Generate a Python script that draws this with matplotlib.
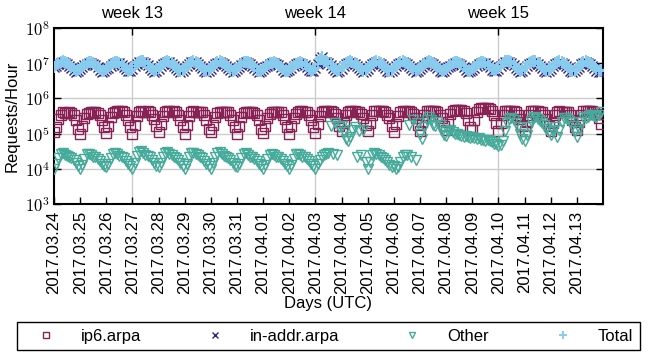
#!/usr/bin/env python3
# -*- coding: utf-8 -*-
"""
Requests/hour per reverse zone, 2-hourly samples, 2017-03-24 .. 2017-04-13.
Writes out.png (652x356).
"""
import numpy as np
import pandas as pd
import matplotlib
matplotlib.use("Agg")
import matplotlib.pyplot as plt
import matplotlib.dates as mdates
from matplotlib.ticker import FixedLocator, NullLocator

START = "2017-03-24"
END = "2017-04-14"
STEP = "2h"          # samples at 00,02,...,22 UTC

# requests/hour in thousands, one row per day (12 samples)
IP6_K = [
    [110, 150, 260, 350, 400, 390, 380, 400, 380, 330, 240, 140],   # 03.24
    [100, 160, 270, 360, 390, 400, 410, 400, 380, 340, 250, 150],
    [105, 170, 290, 380, 420, 440, 450, 430, 400, 350, 250, 150],
    [100, 180, 310, 400, 430, 420, 410, 430, 410, 350, 260, 160],   # 03.27
    [110, 190, 320, 410, 440, 430, 420, 440, 410, 340, 250, 150],
    [100, 180, 310, 400, 430, 420, 410, 420, 400, 330, 240, 140],
    [110, 175, 300, 390, 420, 410, 400, 420, 400, 340, 250, 150],
    [100, 170, 290, 380, 410, 420, 410, 410, 390, 330, 240, 140],   # 03.31
    [105, 160, 270, 360, 400, 420, 420, 410, 400, 350, 260, 150],
    [100, 165, 280, 370, 410, 430, 430, 420, 400, 340, 250, 150],
    [105, 190, 320, 410, 440, 430, 420, 440, 420, 360, 270, 170],   # 04.03
    [120, 200, 330, 420, 440, 430, 430, 420, 410, 360, 280, 180],
    [120, 200, 340, 430, 450, 440, 430, 430, 410, 350, 270, 170],
    [115, 190, 320, 410, 440, 430, 420, 440, 420, 360, 280, 180],
    [120, 210, 340, 430, 450, 440, 430, 440, 410, 350, 270, 170],   # 04.07
    [130, 220, 360, 450, 480, 470, 470, 460, 440, 380, 240, 150],
    [130, 240, 400, 500, 530, 540, 530, 520, 500, 440, 330, 200],
    [120, 200, 340, 430, 450, 440, 430, 430, 410, 350, 260, 160],   # 04.10
    [120, 210, 340, 430, 440, 430, 430, 420, 410, 350, 260, 160],
    [120, 200, 330, 420, 440, 420, 410, 410, 400, 340, 250, 150],
    [125, 210, 340, 430, 450, 440, 430, 440, 420, 370, 280, 190],   # 04.13
]

INADDR_K = [
    [7600, 8600, 9600, 10500, 10900, 10500, 9700, 8600, 7400, 6400, 5700, 6100],   # 03.24
    [6900, 7800, 8800, 9800, 10300, 10300, 9800, 8800, 7600, 6500, 5800, 6000],
    [6700, 7500, 8500, 9500, 10200, 10400, 10000, 9100, 7900, 6700, 5900, 6100],
    [7000, 8300, 9600, 10700, 11200, 10900, 10000, 8800, 7500, 6400, 5800, 6200],  # 03.27
    [7100, 8300, 9500, 10500, 11000, 10600, 9800, 8600, 7300, 6300, 5700, 6100],
    [7000, 8300, 9500, 10600, 11000, 10600, 9700, 8500, 7300, 6200, 5600, 6100],
    [7000, 8200, 9400, 10500, 10900, 10500, 9700, 8600, 7400, 6300, 5700, 6100],
    [7000, 8100, 9200, 10200, 10600, 10200, 9500, 8400, 7300, 6300, 5600, 6000],   # 03.31
    [6700, 7600, 8600, 9600, 10100, 10100, 9700, 8800, 7600, 6500, 5800, 6000],
    [6500, 7300, 8300, 9300, 10000, 10100, 9800, 8900, 7800, 6600, 5900, 6200],
    [7200, 9500, 13000, 15000, 11200, 10800, 9900, 8700, 7400, 6300, 5700, 6100],  # 04.03
    [7100, 8300, 9500, 10500, 10900, 10500, 9700, 8600, 7300, 6300, 5700, 6100],
    [7000, 8200, 9400, 10400, 10800, 10400, 9600, 8500, 7300, 6200, 5600, 6000],
    [7000, 8200, 9400, 10400, 10900, 10500, 9700, 8600, 7400, 6300, 5700, 6100],
    [7000, 8100, 9200, 10200, 10600, 10200, 9500, 8400, 7200, 6200, 5600, 6000],   # 04.07
    [6700, 7600, 8600, 9700, 10200, 10200, 9800, 8800, 7600, 6500, 5800, 6000],
    [6600, 7400, 8400, 9500, 10100, 10200, 9900, 9000, 7800, 6600, 5900, 6200],
    [7100, 8400, 9600, 10700, 11100, 10700, 9900, 8700, 7400, 6300, 5700, 6100],  # 04.10
    [7000, 8300, 9500, 10500, 11000, 10600, 9800, 8600, 7300, 6200, 5600, 6000],
    [7000, 8200, 9400, 10400, 10800, 10400, 9600, 8500, 7200, 6100, 5500, 5900],
    [6900, 8100, 9300, 10300, 10700, 10300, 9500, 8400, 7200, 6100, 5500, 5800],   # 04.13
]

OTHER_K = [
    [10, 14, 20, 27, 28, 25, 23, 22, 20, 18, 15, 12],            # 03.24
    [10, 13, 19, 26, 27, 25, 22, 21, 19, 17, 14, 12],
    [11, 14, 20, 27, 28, 26, 23, 22, 20, 17, 14, 12],
    [10, 15, 23, 30, 32, 28, 25, 23, 21, 18, 15, 12],            # 03.27
    [11, 15, 22, 29, 30, 27, 24, 22, 20, 18, 15, 12],
    [10, 14, 21, 28, 29, 27, 24, 22, 20, 17, 14, 12],
    [10, 15, 22, 29, 30, 26, 23, 22, 20, 18, 15, 12],
    [11, 14, 20, 27, 28, 25, 22, 21, 19, 17, 14, 12],            # 03.31
    [10, 13, 19, 25, 27, 25, 22, 21, 19, 17, 14, 12],
    [10, 13, 19, 26, 27, 25, 22, 21, 19, 17, 14, 12],
    [10, 14, 18, 22, 25, 27, 28, 170, 26, 200, 24, 150],         # 04.03
    [160, 110, 70, 60, 80, 130, 150, 22, 120, 25, 130, 16],
    [10, 16, 24, 28, 27, 25, 22, 20, 18, 16, 13, 11],
    [12, 10, 11, 16, 22, 24, 25, 180, 22, 250, 18, 200],
    [100, 70, 150, 250, 300, 240, 180, 160, 220, 180, 120, 90],  # 04.07
    [85, 120, 130, 115, 100, 95, 90, 85, 80, 85, 80, 75],
    [78, 74, 70, 75, 68, 64, 62, 64, 60, 56, 52, 50],
    [45, 48, 60, 120, 200, 260, 280, 250, 200, 150, 100, 70],    # 04.10
    [60, 90, 150, 230, 280, 300, 260, 230, 200, 180, 140, 110],
    [90, 120, 150, 80, 130, 220, 280, 270, 240, 210, 170, 120],
    [80, 140, 220, 290, 270, 300, 330, 350, 320, 290, 330, 400], # 04.13
]

LABELS = ["ip6.arpa", "in-addr.arpa", "Other", "Total"]
COLORS = ["#882255", "#332288", "#44AA99", "#88CCEE"]
MARKERS = ["s", "x", "v", "+"]
SIZES = [6.5, 6.5, 7, 8]
EDGE_W = [1.0, 1.0, 1.0, 1.4]


def main():
    plt.rcParams["font.family"] = ["Liberation Sans", "DejaVu Sans"]
    plt.rcParams["mathtext.fontset"] = "cm"
    plt.rcParams["font.size"] = 12

    ip6 = np.array(IP6_K, float).ravel() * 1e3
    inaddr = np.array(INADDR_K, float).ravel() * 1e3
    other = np.array(OTHER_K, float).ravel() * 1e3
    total = ip6 + inaddr + other
    t = pd.date_range(START, periods=ip6.size, freq=STEP)

    fig = plt.figure(figsize=(6.52, 3.56), dpi=100)
    ax = fig.add_axes([0.0828, 0.427, 0.842, 0.494])

    series = [ip6, inaddr, other, total]
    for y, lab, c, m, s, w in zip(series, LABELS, COLORS, MARKERS, SIZES, EDGE_W):
        ax.plot(t, y, ls="none", marker=m, mfc="none", mec=c, ms=s, mew=w,
                label=lab, zorder=3)

    ax.set_yscale("log")
    ax.set_ylim(1e3, 1e8)
    decades = [3, 4, 5, 6, 7, 8]
    ax.yaxis.set_major_locator(FixedLocator([10.0 ** n for n in decades]))
    ax.yaxis.set_minor_locator(NullLocator())
    ax.set_yticklabels([f"$10^{{{n}}}$" for n in decades], fontsize=12)
    ax.grid(axis="y", color="#cccccc", lw=1.0, zorder=0)

    days = pd.date_range(START, "2017-04-13", freq="D")
    ax.set_xlim(mdates.date2num(pd.Timestamp(START)), mdates.date2num(pd.Timestamp(END)))
    ax.xaxis.set_major_locator(FixedLocator(mdates.date2num(days)))
    ax.set_xticklabels([d.strftime("%Y.%m.%d") for d in days], rotation=90, fontsize=12)

    # week boundaries (ISO weeks start on Monday)
    weeks = pd.date_range("2017-03-27", "2017-04-10", freq="7D")
    for w in weeks:
        ax.axvline(mdates.date2num(w), color="#cccccc", lw=1.0, zorder=0)

    ax.tick_params(axis="x", direction="in", length=5, width=1, pad=5)
    ax.tick_params(axis="y", direction="in", length=5, width=1, pad=3,
                   left=True, right=True)
    for sp in ax.spines.values():
        sp.set_linewidth(1.5)

    top = ax.twiny()
    top.set_xlim(ax.get_xlim())
    top.xaxis.set_major_locator(FixedLocator(mdates.date2num(weeks)))
    top.set_xticklabels([f"week {w.isocalendar()[1]}" for w in weeks], fontsize=12)
    top.tick_params(axis="x", direction="in", length=5, width=1, pad=5)
    for sp in top.spines.values():
        sp.set_visible(False)

    ax.set_ylabel("Requests/Hour", fontsize=12, labelpad=4)
    ax.set_xlabel("Days (UTC)", fontsize=12, labelpad=1)

    leg = ax.legend(loc="center", ncol=4, mode="expand",
                    bbox_to_anchor=(0.0138, 0.0084, 0.98, 0.0955),
                    bbox_transform=fig.transFigure, fontsize=12,
                    handlelength=2.6, handletextpad=0.8, borderpad=0.4,
                    markerscale=0.7, fancybox=False, framealpha=1)
    leg.get_frame().set_edgecolor("black")
    leg.get_frame().set_linewidth(1.0)

    fig.savefig("out.png", dpi=100)
    plt.close(fig)


if __name__ == "__main__":
    main()
